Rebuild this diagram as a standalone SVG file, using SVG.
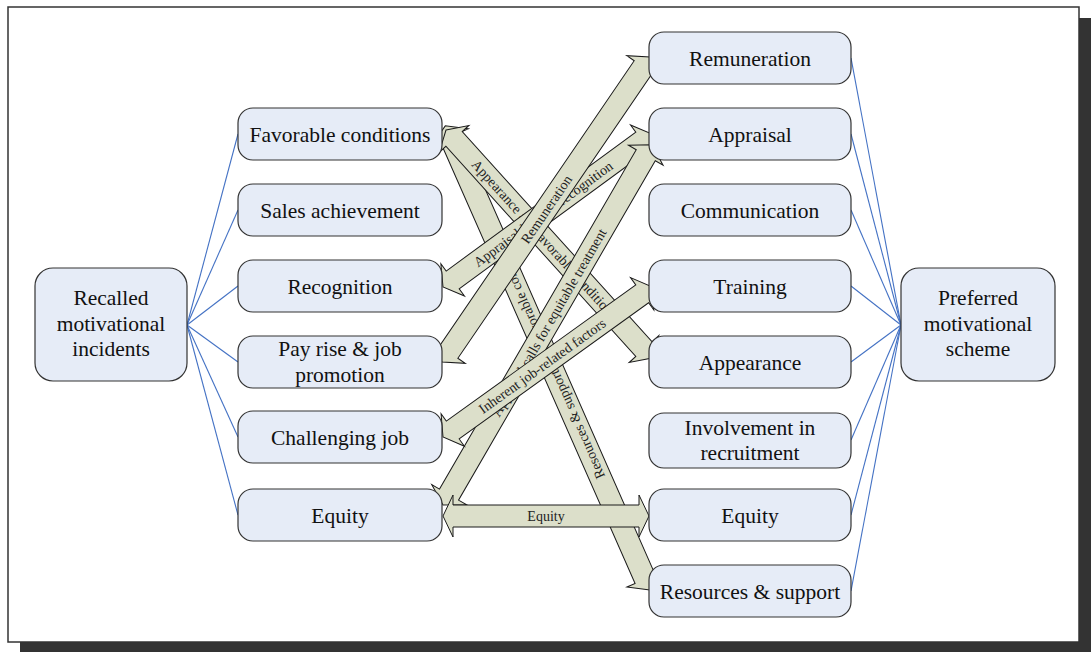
<svg xmlns="http://www.w3.org/2000/svg" width="1091" height="652" viewBox="0 0 1091 652">
<style>
.node rect{fill:#E6ECF7;stroke:#333;stroke-width:1.2}
.node text{font-family:"Liberation Serif","Times New Roman",serif;font-size:21.5px;fill:#111;text-anchor:middle}
.line{stroke:#4472C4;stroke-width:1.1;fill:none}
.band polygon{fill:#DCDFCA;stroke:#1a1a1a;stroke-width:1;stroke-linejoin:miter}
.band text{font-family:"Liberation Serif","Times New Roman",serif;font-size:14px;fill:#222;text-anchor:middle}
</style>
<rect x="20" y="18" width="1071" height="635" fill="#333"/>
<rect x="8" y="7" width="1071" height="635" fill="#fff" stroke="#333" stroke-width="1.5"/>
<g id="connectors">
<g id="lines">
<line class="line" x1="187" y1="325" x2="238" y2="134"/>
<line class="line" x1="187" y1="325" x2="238" y2="210"/>
<line class="line" x1="187" y1="325" x2="238" y2="286"/>
<line class="line" x1="187" y1="325" x2="238" y2="362"/>
<line class="line" x1="187" y1="325" x2="238" y2="437"/>
<line class="line" x1="187" y1="325" x2="238" y2="515"/>
<line class="line" x1="851" y1="58" x2="901" y2="325"/>
<line class="line" x1="851" y1="134" x2="901" y2="325"/>
<line class="line" x1="851" y1="210" x2="901" y2="325"/>
<line class="line" x1="851" y1="286" x2="901" y2="325"/>
<line class="line" x1="851" y1="362" x2="901" y2="325"/>
<line class="line" x1="851" y1="440" x2="901" y2="325"/>
<line class="line" x1="851" y1="515" x2="901" y2="325"/>
<line class="line" x1="851" y1="591" x2="901" y2="325"/>
</g>
<g id="arrow-resources" class="band" transform="translate(650,590) rotate(-113.8)">
<polygon points="0,0 12,-20 12,-11 495.3,-11 495.3,-20 507.3,0 495.3,20 495.3,11 12,11 12,20"/>
<text x="254" y="5">Resources &amp; support with favorable conditions</text>
</g>
<g id="arrow-appearance" class="band" transform="translate(446,130) rotate(47.9)">
<polygon points="0,0 12,-20 12,-11 295.3,-11 295.3,-20 307.3,0 295.3,20 295.3,11 12,11 12,20"/>
<text x="147" y="5">Appearance and favorable conditions</text>
</g>
<g id="arrow-appraisal-recognition" class="band" transform="translate(443,287) rotate(-36.2)">
<polygon points="0,0 12,-20 12,-11 247,-11 247,-20 259,0 247,20 247,11 12,11 12,20"/>
<text x="124" y="5">Appraisal leads to recognition</text>
</g>
<g id="arrow-remuneration" class="band" transform="translate(442,362) rotate(-55.7)">
<polygon points="0,0 12,-20 12,-11 357.2,-11 357.2,-20 369.2,0 357.2,20 357.2,11 12,11 12,20"/>
<text x="185" y="5">Remuneration</text>
</g>
<g id="arrow-equitable" class="band" transform="translate(443,505) rotate(-59.9)">
<polygon points="0,0 12,-20 12,-11 404.3,-11 404.3,-20 416.3,0 404.3,20 404.3,11 12,11 12,20"/>
<text x="211" y="5">Appraisal calls for equitable treatment</text>
</g>
<g id="arrow-inherent" class="band" transform="translate(443,437) rotate(-35.7)">
<polygon points="0,0 12,-20 12,-11 245.3,-11 245.3,-20 257.3,0 245.3,20 245.3,11 12,11 12,20"/>
<text x="122" y="5">Inherent job-related factors</text>
</g>
<g id="arrow-equity" class="band" transform="translate(443,516)">
<polygon points="0,0 10,-21 10,-11 196,-11 196,-21 206,0 196,21 196,11 10,11 10,21"/>
<text x="103" y="5">Equity</text>
</g>
</g>
<g id="recalled" class="node"><rect x="35" y="268" width="152" height="113" rx="18"/><text x="111" y="305">Recalled</text><text x="111" y="330.5">motivational</text><text x="111" y="356">incidents</text></g>
<g id="preferred" class="node"><rect x="901" y="268" width="154" height="113" rx="18"/><text x="978" y="305">Preferred</text><text x="978" y="330.5">motivational</text><text x="978" y="356">scheme</text></g>
<g id="favorable" class="node"><rect x="238" y="108" width="204" height="52" rx="15"/><text x="340" y="141.5">Favorable conditions</text></g>
<g id="sales" class="node"><rect x="238" y="184" width="204" height="52" rx="15"/><text x="340" y="217.5">Sales achievement</text></g>
<g id="recognition" class="node"><rect x="238" y="260" width="204" height="52" rx="15"/><text x="340" y="293.5">Recognition</text></g>
<g id="payrise" class="node"><rect x="238" y="336" width="204" height="52" rx="15"/><text x="340" y="356">Pay rise &amp; job</text><text x="340" y="382">promotion</text></g>
<g id="challenging" class="node"><rect x="238" y="411" width="204" height="52" rx="15"/><text x="340" y="444.5">Challenging job</text></g>
<g id="equity-left" class="node"><rect x="238" y="489" width="204" height="52" rx="15"/><text x="340" y="522.5">Equity</text></g>
<g id="remuneration" class="node"><rect x="649" y="32" width="202" height="52" rx="15"/><text x="750" y="65.5">Remuneration</text></g>
<g id="appraisal" class="node"><rect x="649" y="108" width="202" height="52" rx="15"/><text x="750" y="141.5">Appraisal</text></g>
<g id="communication" class="node"><rect x="649" y="184" width="202" height="52" rx="15"/><text x="750" y="217.5">Communication</text></g>
<g id="training" class="node"><rect x="649" y="260" width="202" height="52" rx="15"/><text x="750" y="293.5">Training</text></g>
<g id="appearance" class="node"><rect x="649" y="336" width="202" height="52" rx="15"/><text x="750" y="369.5">Appearance</text></g>
<g id="involvement" class="node"><rect x="649" y="413" width="202" height="55" rx="15"/><text x="750" y="434.5">Involvement in</text><text x="750" y="460">recruitment</text></g>
<g id="equity-right" class="node"><rect x="649" y="489" width="202" height="52" rx="15"/><text x="750" y="522.5">Equity</text></g>
<g id="resources" class="node"><rect x="649" y="565" width="202" height="52" rx="15"/><text x="750" y="598.5">Resources &amp; support</text></g>
</svg>
